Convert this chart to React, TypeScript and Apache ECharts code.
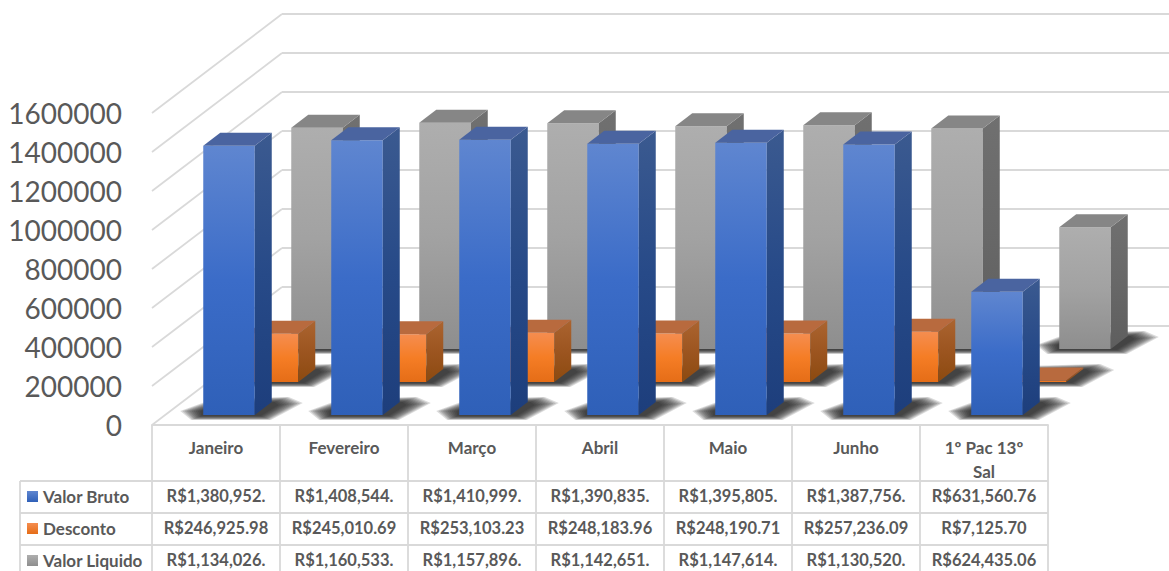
import React, { useEffect, useRef } from "react";
import * as echarts from "echarts";

const categories = ["Janeiro", "Fevereiro", "Março", "Abril", "Maio", "Junho", "1º Pac 13º\nSal"];
const valorBruto = [1380952, 1408544, 1410999, 1390835, 1395805, 1387756, 631560.76];
const desconto = [246925.98, 245010.69, 253103.23, 248183.96, 248190.71, 257236.09, 7125.7];
const valorLiquido = [1134026, 1160533, 1157896, 1142651, 1147614, 1130520, 624435.06];
const brutoLabels = ["R$1,380,952.", "R$1,408,544.", "R$1,410,999.", "R$1,390,835.", "R$1,395,805.", "R$1,387,756.", "R$631,560.76"];
const descontoLabels = ["R$246,925.98", "R$245,010.69", "R$253,103.23", "R$248,183.96", "R$248,190.71", "R$257,236.09", "R$7,125.70"];
const liquidoLabels = ["R$1,134,026.", "R$1,160,533.", "R$1,157,896.", "R$1,142,651.", "R$1,147,614.", "R$1,130,520.", "R$624,435.06"];
const yTicks = [0, 200000, 400000, 600000, 800000, 1000000, 1200000, 1400000, 1600000];

const GRID = { left: 152, top: 113, width: 896, height: 312 };
const DEPTH = { dx: 130, dy: -99 };
const SIDE = { dx: 17, dy: -13 };
const BAR_W = 51.5;
const TEXT = "#595959";
const LINE = "#d9d9d9";
const FONT = "Lato";

const grad = (a: string, b: string, c: string) =>
  new echarts.graphic.LinearGradient(0, 0, 0, 1, [
    { offset: 0, color: a },
    { offset: 0.5, color: b },
    { offset: 1, color: c },
  ]);

const PAL = {
  blue: {
    front: () => grad("#5f86d0", "#3b6cc8", "#2f60b8"),
    side: () => grad("#3b5a90", "#274a88", "#1d3e7c"),
    top: "#4a64a0",
  },
  orange: {
    front: () => grad("#f58d50", "#f57d25", "#e56d17"),
    side: () => grad("#ab6430", "#9c5520", "#8c4a10"),
    top: "#b86a3e",
  },
  grey: {
    front: () => grad("#aeaeae", "#a2a2a2", "#8e8e8e"),
    side: () => grad("#707070", "#686868", "#5e5e5e"),
    top: "#868686",
  },
};

function poly(points: number[][], fill: any, extra: any = {}) {
  return { type: "polygon", shape: { points }, style: { fill, ...extra } };
}

function barSeries(name: string, values: number[], off: { dx: number; dy: number }, pal: any, z: number) {
  return {
    type: "custom",
    name,
    z,
    data: values.map((v, i) => [i, v]),
    encode: { x: 0, y: 1 },
    silent: true,
    renderItem: (_p: any, api: any) => {
      const top = api.coord([api.value(0), api.value(1)]);
      const base = api.coord([api.value(0), 0]);
      const cx = top[0] + off.dx;
      const L = cx - BAR_W / 2;
      const R = cx + BAR_W / 2;
      const T = top[1] + off.dy;
      const B = base[1] + off.dy;
      return {
        type: "group",
        children: [
          poly([[L, T], [R, T], [R, B], [L, B]], pal.front()),
          poly([[R, T], [R + SIDE.dx, T + SIDE.dy], [R + SIDE.dx, B + SIDE.dy], [R, B]], pal.side()),
          poly([[L, T], [L + SIDE.dx, T + SIDE.dy], [R + SIDE.dx, T + SIDE.dy], [R, T]], pal.top),
        ],
      };
    },
  };
}

function shadowSeries(name: string, values: number[], off: { dx: number; dy: number }, z: number) {
  const layers = 10;
  return {
    type: "custom",
    name,
    z,
    data: values.map((v, i) => [i, v]),
    encode: { x: 0, y: 1 },
    silent: true,
    renderItem: (_p: any, api: any) => {
      const base = api.coord([api.value(0), 0]);
      const cx = base[0] + off.dx;
      const L = cx - BAR_W / 2;
      const R = cx + BAR_W / 2;
      const B = base[1] + off.dy;
      const children: any[] = [];
      for (let k = 0; k < layers; k++) {
        const e = 1 - k / (layers - 1);
        children.push(
          poly(
            [
              [L - 3 - 20 * e, B - 4],
              [L - 2 - 10 * e, B + 1 + 4 * e],
              [R + 6 + 10 * e, B + 1 + 4 * e],
              [R + 24 + 24 * e, B - 10 - 2 * e],
              [R + 20 + 14 * e, B - 13 - 5 * e],
              [L + 16 - 6 * e, B - 10 - 6 * e],
            ],
            "rgba(30,30,30,0.16)"
          )
        );
      }
      return { type: "group", children };
    },
  };
}

const wallSeries = {
  type: "custom",
  name: "walls",
  z: 1,
  data: yTicks.map((v) => [0, v]),
  encode: { x: 0, y: 1 },
  silent: true,
  renderItem: (_p: any, api: any) => {
    const c = api.coord([0, api.value(1)]);
    const band = api.size([1, 0])[0];
    const x0 = c[0] - band / 2;
    const x1 = x0 + DEPTH.dx;
    const y1 = c[1] + DEPTH.dy;
    const style = { stroke: LINE, lineWidth: 1.8, fill: "none" };
    return {
      type: "group",
      children: [
        { type: "line", shape: { x1: x0, y1: c[1], x2: x1, y2: y1 }, style },
        { type: "line", shape: { x1, y1, x2: x1 + band * 7, y2: y1 }, style },
      ],
    };
  },
};

function tableGraphics() {
  const band = GRID.width / categories.length;
  const headBottom = 481;
  const rows = [481, 513, 545];
  const bottom = 571;
  const legendX = 20;
  const right = GRID.left + GRID.width;
  const els: any[] = [];
  const ln = (x1: number, y1: number, x2: number, y2: number) =>
    els.push({ type: "line", silent: true, shape: { x1, y1, x2, y2 }, style: { stroke: LINE, lineWidth: 1.8 } });
  rows.forEach((y) => ln(legendX, y, right, y));
  ln(legendX, headBottom, legendX, bottom);
  for (let i = 0; i <= categories.length; i++) {
    const x = GRID.left + i * band;
    ln(x, GRID.top + GRID.height, x, bottom);
  }
  const nameFont = `bold 17px ${FONT}`;
  const valueFont = `bold 16.5px ${FONT}`;
  const table = [
    { name: "Valor Bruto", labels: brutoLabels, c: ["#5f86d0", "#2f60b8"] },
    { name: "Desconto", labels: descontoLabels, c: ["#f58d50", "#e56d17"] },
    { name: "Valor Liquido", labels: liquidoLabels, c: ["#aeaeae", "#8e8e8e"] },
  ];
  table.forEach((r, ri) => {
    const cy = rows[ri] + 15;
    els.push({
      type: "rect",
      silent: true,
      shape: { x: 27, y: cy - 5, width: 11, height: 11 },
      style: { fill: new echarts.graphic.LinearGradient(0, 0, 0, 1, [{ offset: 0, color: r.c[0] }, { offset: 1, color: r.c[1] }]) },
    });
    els.push({
      type: "text",
      silent: true,
      style: { text: r.name, x: 43, y: cy, font: nameFont, fill: TEXT, align: "left", verticalAlign: "middle" },
    });
    r.labels.forEach((t, i) => {
      els.push({
        type: "text",
        silent: true,
        style: { text: t, x: GRID.left + (i + 0.5) * band, y: cy, font: valueFont, fill: TEXT, align: "center", verticalAlign: "middle" },
      });
    });
  });
  return els;
}

export default function App() {
  const ref = useRef<HTMLDivElement>(null);
  useEffect(() => {
    document.body.style.margin = "0";
    document.body.style.overflow = "hidden";
    const chart = echarts.init(ref.current!, undefined, { renderer: "svg" });
    const blueOff = { dx: 13, dy: -10 };
    const orangeOff = { dx: 56.5, dy: -43 };
    const greyOff = { dx: 101, dy: -76 };
    chart.setOption({
      animation: false,
      backgroundColor: "#ffffff",
      grid: { ...GRID, containLabel: false },
      xAxis: {
        type: "category",
        data: categories,
        axisLine: { show: true, lineStyle: { color: LINE, width: 1.8 } },
        axisTick: { show: false },
        axisLabel: {
          color: TEXT,
          fontFamily: FONT,
          fontWeight: "bold",
          fontSize: 17,
          lineHeight: 24,
          margin: 10,
          verticalAlign: "top",
          interval: 0,
        },
        splitLine: { show: false },
      },
      yAxis: {
        type: "value",
        min: 0,
        max: 1600000,
        interval: 200000,
        axisLine: { show: false },
        axisTick: { show: false },
        splitLine: { show: false },
        axisLabel: {
          color: TEXT,
          fontFamily: FONT,
          fontSize: 28,
          margin: 30,
          formatter: (v: number) => String(v),
        },
      },
      graphic: { elements: tableGraphics() },
      series: [
        wallSeries,
        shadowSeries("sombra liquido", valorLiquido, greyOff, 2),
        barSeries("Valor Liquido", valorLiquido, greyOff, PAL.grey, 3),
        shadowSeries("sombra desconto", desconto, orangeOff, 4),
        barSeries("Desconto", desconto, orangeOff, PAL.orange, 5),
        shadowSeries("sombra bruto", valorBruto, blueOff, 6),
        barSeries("Valor Bruto", valorBruto, blueOff, PAL.blue, 7),
      ],
    });
    return () => chart.dispose();
  }, []);
  return <div ref={ref} style={{ position: "fixed", left: 0, top: 0, width: 1169, height: 571 }} />;
}
